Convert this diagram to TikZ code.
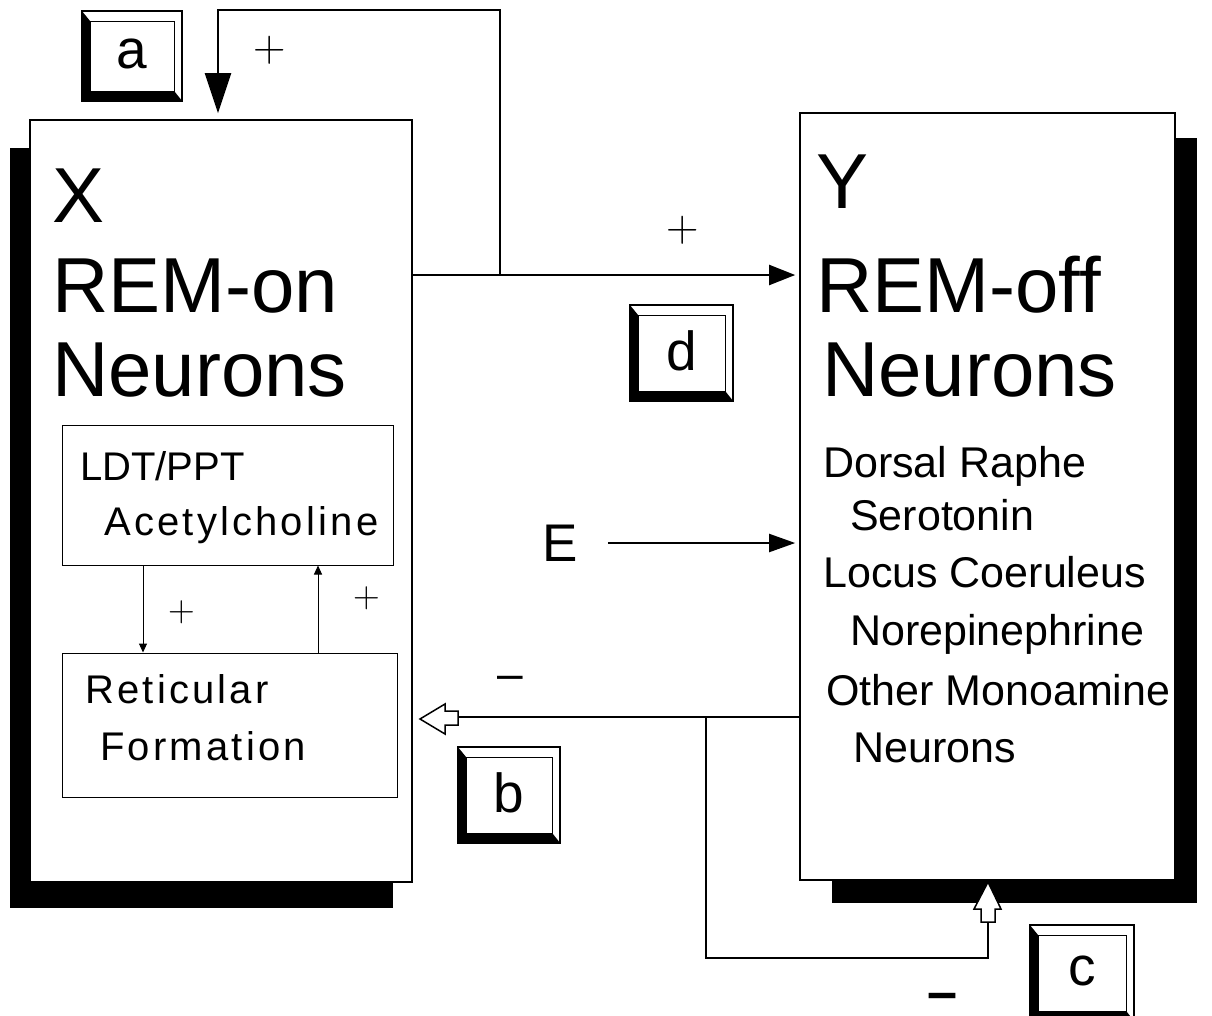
\documentclass[tikz,border=0pt]{standalone}
\usepackage{fontspec}
\newfontfamily\hel{Liberation Sans}
\newfontfamily\helsp{Liberation Sans}[LetterSpace=8]
\newfontfamily\helb{Liberation Sans Bold}
\usetikzlibrary{arrows.meta,calc}
\newcommand\keyface[1]{%
  \fill[black] (#1.north west) -- (#1.south west) -- (#1.south east) -- ($(#1.south east)+(-8,-10)$) -- ($(#1.south west)+(9,-10)$) -- ($(#1.north west)+(9,11)$) -- cycle;
  \draw[line width=1pt] ($(#1.north west)+(9,11)$) rectangle ($(#1.south east)+(-8,-10)$);
}
\begin{document}
\begin{tikzpicture}[x=1pt,y=-1pt,
  bigbox/.style={draw,line width=1.6pt,fill=white,inner sep=0pt},
  subbox/.style={draw,line width=1pt,inner sep=0pt},
  keyb/.style={draw,line width=1.4pt,fill=white,inner sep=0pt,minimum width=100pt,minimum height=90pt,font=\hel\fontsize{55}{55}\selectfont},
  wire/.style={line width=2pt},
  thinwire/.style={line width=1pt},
  big/.style={anchor=base west,inner sep=0pt,font=\hel\fontsize{78}{78}\selectfont},
  small/.style={anchor=base west,inner sep=0pt,font=\hel\fontsize{43}{43}\selectfont},
  inner/.style={anchor=base west,inner sep=0pt,font=\helsp\fontsize{40}{40}\selectfont},
  innerplain/.style={anchor=base west,inner sep=0pt,font=\hel\fontsize{40}{40}\selectfont},
  plus/.style={inner sep=0pt,font=\fontsize{45}{45}\selectfont},
  splus/.style={inner sep=0pt,font=\fontsize{37}{37}\selectfont}]
\useasboundingbox (0,0) rectangle (1212,1015);
\fill[white] (0,0) rectangle (1212,1015);

% shadows
\fill[black] (10,148) rectangle (393,908);
\fill[black] (832,138) rectangle (1197,903);

% main boxes
\node[bigbox,minimum width=382pt,minimum height=762pt] (X) at (221,501) {};
\node[bigbox,minimum width=375pt,minimum height=767pt] (Y) at (987.5,496.5) {};

% X texts
\node[big] (tX) at (52,222) {X};
\node[big] (tXon) at (52,312) {REM-on};
\node[big] (tXn) at (52,396) {Neurons};
% Y texts
\node[big] (tY) at (816,208) {Y};
\node[big] (tYoff) at (816,312) {REM-off};
\node[big] (tYn) at (822,396) {Neurons};
\node[small] (y1) at (823,477) {Dorsal Raphe};
\node[small] (y2) at (850,530) {Serotonin};
\node[small] (y3) at (823,587) {Locus Coeruleus};
\node[small] (y4) at (850,645) {Norepinephrine};
\node[small] (y5) at (826,705) {Other Monoamine};
\node[small] (y6) at (853,762) {Neurons};

% inner X boxes
\node[subbox,minimum width=331pt,minimum height=140pt] (LDT) at (227.5,495) {};
\node[subbox,minimum width=335pt,minimum height=144pt] (RF) at (229.5,725) {};
\node[innerplain] (l1) at (80,480) {LDT/PPT};
\node[inner] (l2) at (104,535) {Acetylcholine};
\node[inner] (r1) at (85,703) {Reticular};
\node[inner] (r2) at (100,760) {Formation};
\coordinate (cdown) at (143,0);
\coordinate (cup) at (318,0);
\draw[thinwire,-{Triangle[length=9pt,width=8pt]}] (cdown |- LDT.south) -- (cdown |- RF.north);
\draw[thinwire,-{Triangle[length=9pt,width=8pt]}] (cup |- RF.north) -- (cup |- LDT.south);
\node[splus] (p3) at (182,612) {+};
\node[splus] (p4) at (367,598) {+};

% X -> Y (d) and loop back to X (a)
\coordinate (j1) at (500,275);
\coordinate (top) at (218,10);
\draw[wire,-{Triangle[length=26pt,width=20pt]}] (X.east |- j1) -- ($(Y.west |- j1)+(-4,0)$);
\draw[wire,-{Triangle[length=40pt,width=26pt]}] (j1) |- (top) -- ($(top |- X.north)+(0,-6)$);
\node[plus] (p1) at (270,50) {+};
\node[plus] (p2) at (683,230) {+};

% E
\node[inner sep=0pt,font=\hel\fontsize{53}{53}\selectfont] (E) at (560,543) {E};
\draw[wire,-{Triangle[length=26pt,width=18pt]}] ($(E.east)+(30,0)$) -- ($(E.east -| Y.west)+(-4,0)$);

% Y -> X (b) and Y -> Y (c)
\coordinate (jb) at (706,717);
\coordinate (cb) at (988,958);
\draw[wire] (Y.west |- jb) -- (458,717);
\draw[line width=1.5pt,fill=white] (420,719) -- (445,704) -- (445,711) -- (458,711) -- (458,725) -- (445,725) -- (445,734) -- cycle;
\draw[wire] (jb) |- (cb) -- (988,922);
\draw[line width=1.5pt,fill=white] (988,882) -- (1001,909) -- (995,909) -- (995,922) -- (981,922) -- (981,909) -- (974,909) -- cycle;
\node[anchor=north,inner sep=0pt,font=\hel\fontsize{46}{46}\selectfont] (m1) at (510,676) {–};
\node[anchor=north,inner sep=0pt,font=\helb\fontsize{36}{36}\selectfont] (m2) at (943,993) {\scalebox{1.5}[1.5]{–}};

% key boxes
\node[keyb] (a) at (132,56) {};
\keyface{a}
\node[inner sep=0pt,font=\hel\fontsize{55}{55}\selectfont] (ta) at ($(a.center)+(0,-2)$) {a};
\node[keyb,minimum width=103pt,minimum height=96pt] (d) at (681.5,353) {};
\keyface{d}
\node[inner sep=0pt,font=\hel\fontsize{55}{55}\selectfont] (td) at ($(d.center)+(0,-2)$) {d};
\node[keyb,minimum width=102pt,minimum height=96pt] (b) at (509,795) {};
\keyface{b}
\node[inner sep=0pt,font=\hel\fontsize{55}{55}\selectfont] (tb) at ($(b.center)+(0,-2)$) {b};
\node[keyb,minimum width=104pt,minimum height=96pt] (c) at (1082,973) {};
\keyface{c}
\node[inner sep=0pt,font=\hel\fontsize{55}{55}\selectfont] (tc) at ($(c.center)+(0,-2)$) {c};
\end{tikzpicture}
\end{document}
